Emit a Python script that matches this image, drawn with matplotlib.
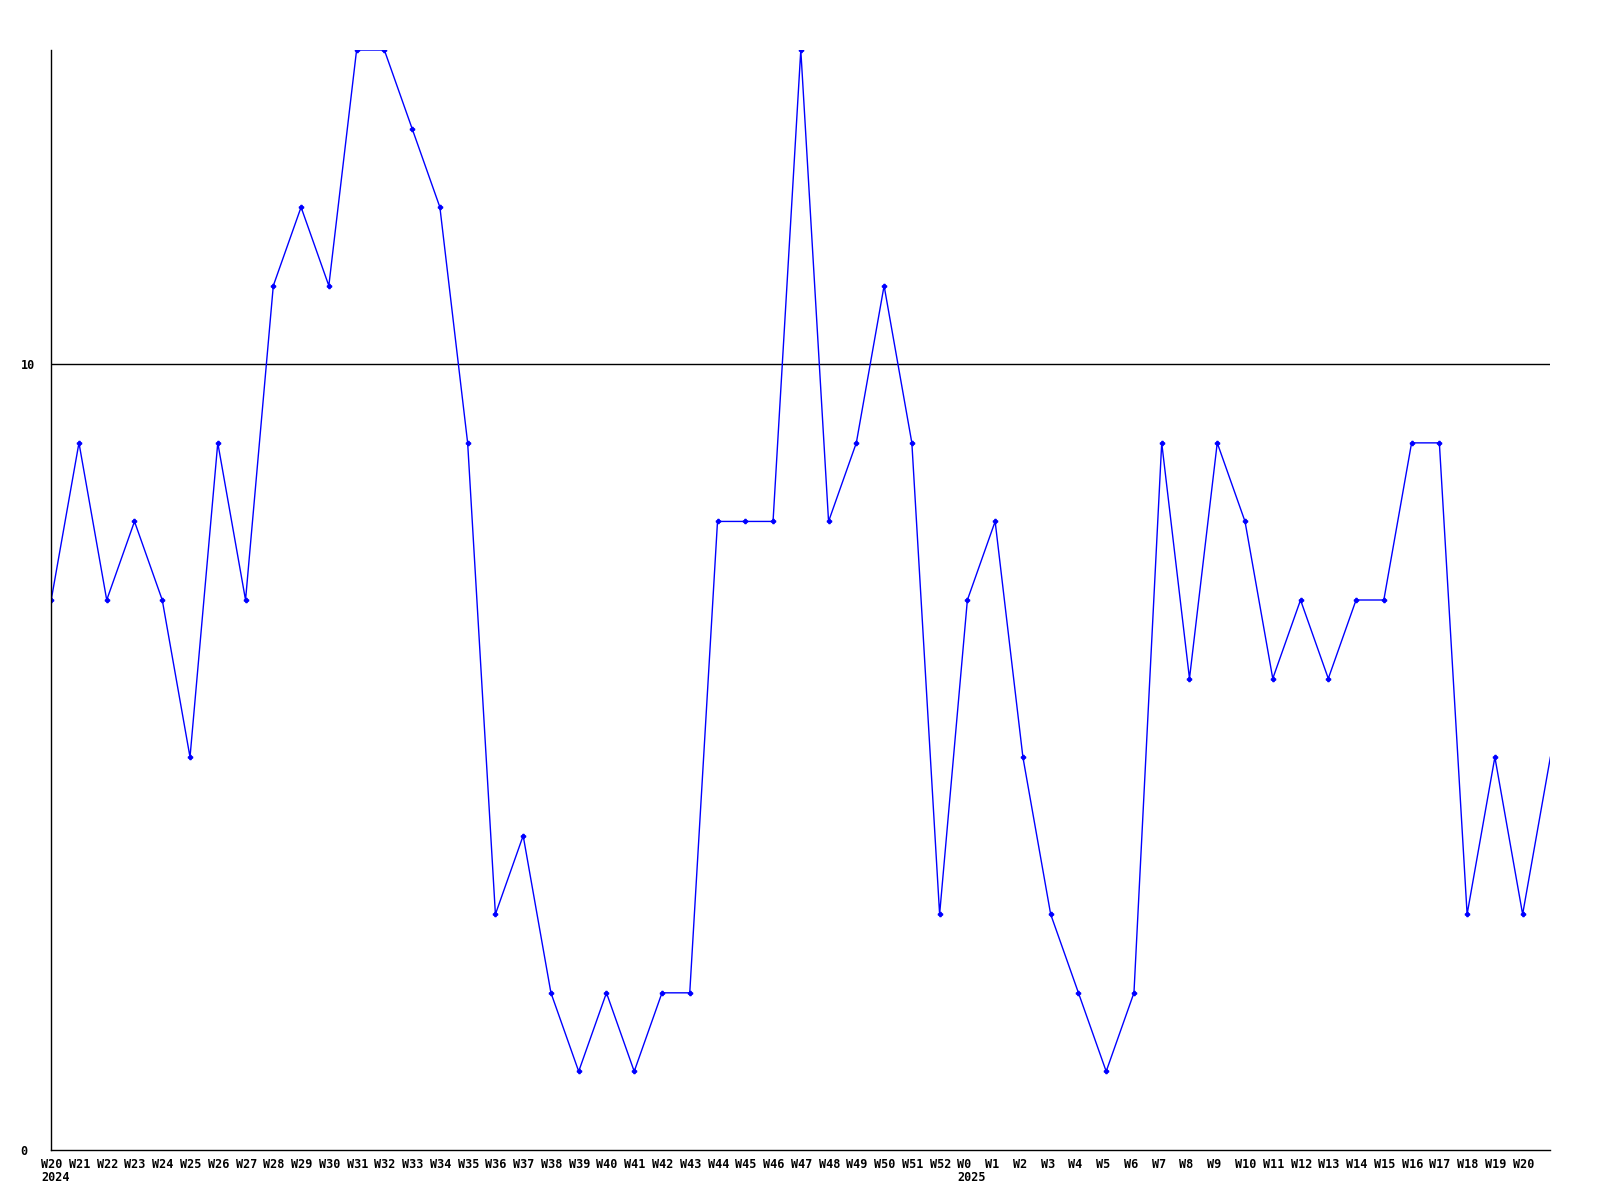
import matplotlib
matplotlib.use("Agg")
import matplotlib.pyplot as plt
import matplotlib.transforms as mtransforms

# -------------------------
# DATA
# -------------------------
weeks_2024 = [f"W{i}" for i in range(20, 53)]
weeks_2025 = [f"W{i}" for i in range(0, 22)]
week_labels = weeks_2024 + weeks_2025

counts_2024 = [7, 9, 7, 8, 7, 5, 9, 7, 11, 12, 11, 14, 14, 13, 12, 9, 3,
               4, 2, 1, 2, 1, 2, 2, 8, 8, 8, 14, 8, 9, 11, 9, 3]
counts_2025 = [7, 8, 5, 3, 2, 1, 2, 9, 6, 9, 8, 6, 7, 6, 7, 7, 9, 9, 3,
               5, 3, 5]
counts = counts_2024 + counts_2025

year_marks = {"2024": 0, "2025": len(weeks_2024)}
y_ticks = [0, 10]

# -------------------------
# PLOT
# -------------------------
fig = plt.figure(figsize=(16, 12), dpi=100)
ax = fig.add_axes([0.032, 0.0417, 0.937, 0.9166])

x = list(range(len(counts)))
ax.plot(x, counts, color="#0000ff", lw=1.0, marker="P", ms=3,
        markevery=list(range(len(counts) - 1)))
ax.axhline(10, color="black", lw=1.0, zorder=0)

ax.set_xlim(0, len(counts) - 1)
ax.set_ylim(0, 14)

for side in ("top", "right"):
    ax.spines[side].set_visible(False)
for side in ("left", "bottom"):
    ax.spines[side].set_linewidth(1.0)

font = dict(family="DejaVu Sans Mono", weight="bold", size=8.5)

# labels start a little left of their point
shift = mtransforms.ScaledTranslation(-10 / 100, 0, fig.dpi_scale_trans)

ax.set_xticks(x[:-1])
ax.set_xticklabels(week_labels[:-1], **font)
ax.tick_params(axis="x", length=0, pad=6)
for lab in ax.get_xticklabels():
    lab.set_horizontalalignment("left")
    lab.set_transform(lab.get_transform() + shift)

ax.set_yticks(y_ticks)
ax.set_yticklabels([str(v) for v in y_ticks], **font)
ax.tick_params(axis="y", length=0, pad=22)
for lab in ax.get_yticklabels():
    lab.set_horizontalalignment("left")

for year, idx in year_marks.items():
    ax.annotate(year, xy=(idx, 0), xycoords=("data", "axes fraction"),
                xytext=(-7.2, -15), textcoords="offset points",
                ha="left", va="top", **font)

fig.savefig("out.png", dpi=100)
